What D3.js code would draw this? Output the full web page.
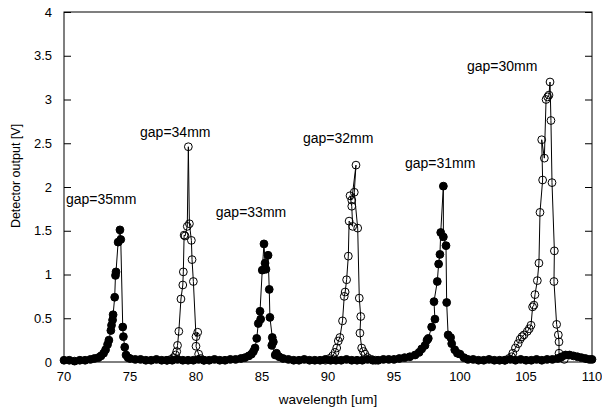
<!DOCTYPE html>
<html>
<head>
<meta charset="utf-8">
<script src="https://cdn.jsdelivr.net/npm/d3@7"></script>
<style>
  body { margin: 0; background: #fff; }
  text { font-family: Arial, "Liberation Sans", sans-serif; fill: #000; }
</style>
</head>
<body>
<div id="chart"></div>
<script>
// scans as [wavelength um, detector output V]
var scan35 = [[70.0,0.02],[70.4,0.02],[70.8,0.01],[71.2,0.02],[71.6,0.02],[72.0,0.03],[72.3,0.04],[72.6,0.05],[72.8,0.07],[73.0,0.10],[73.15,0.14],[73.3,0.20],[73.4,0.25],[73.55,0.36],[73.6,0.42],[73.68,0.48],[73.72,0.54],[73.84,0.74],[73.9,0.99],[73.94,1.03],[74.1,1.37],[74.24,1.51],[74.3,1.40],[74.45,0.40],[74.5,0.29],[74.6,0.17],[74.7,0.08],[74.85,0.05],[75.0,0.04],[75.4,0.03],[75.8,0.03],[76.2,0.02],[76.6,0.02],[77.0,0.03],[77.4,0.02],[77.8,0.02],[78.2,0.02],[78.6,0.03],[79.0,0.02],[79.4,0.02],[79.8,0.02],[80.2,0.03]];
var scan33 = [[80.6,0.02],[81.0,0.02],[81.4,0.03],[81.8,0.02],[82.2,0.02],[82.6,0.03],[83.0,0.03],[83.4,0.04],[83.7,0.05],[84.0,0.07],[84.2,0.09],[84.35,0.12],[84.47,0.16],[84.6,0.27],[84.72,0.44],[84.9,0.49],[84.85,0.58],[85.02,1.05],[85.15,1.35],[85.23,1.13],[85.3,1.06],[85.46,1.22],[85.55,0.83],[85.6,0.51],[85.78,0.28],[85.86,0.23],[85.74,0.19],[86.0,0.08]];
var scan31 = [[86.1,0.10],[86.3,0.06],[86.6,0.04],[87.0,0.03],[87.4,0.02],[87.8,0.02],[88.2,0.03],[88.6,0.02],[89.0,0.02],[89.4,0.02],[89.8,0.03],[90.2,0.02],[90.6,0.02],[91.0,0.02],[91.4,0.03],[91.8,0.02],[92.2,0.02],[92.6,0.02],[93.0,0.03],[93.4,0.02],[93.8,0.02],[94.2,0.03],[94.6,0.03],[95.0,0.03],[95.4,0.04],[95.8,0.05],[96.2,0.06],[96.6,0.08],[96.9,0.11],[97.1,0.15],[97.35,0.19],[97.5,0.25],[97.6,0.27],[97.85,0.40],[98.1,0.49],[98.03,0.69],[98.28,0.92],[98.38,1.12],[98.48,1.23],[98.54,1.48],[98.74,2.01],[98.74,1.43],[98.94,1.33],[98.99,0.68],[99.1,0.31],[99.29,0.28],[99.37,0.21],[99.6,0.14],[99.8,0.10],[100.0,0.09],[100.3,0.05],[100.6,0.03],[101.0,0.03],[101.4,0.02],[101.8,0.02],[102.2,0.03],[102.6,0.02],[103.0,0.02],[103.4,0.02],[103.8,0.03],[104.2,0.02],[104.6,0.03],[105.0,0.02],[105.4,0.02],[105.8,0.03],[106.2,0.02],[106.6,0.03],[107.0,0.03],[107.4,0.04],[107.7,0.06],[108.0,0.08],[108.3,0.08],[108.6,0.07],[108.9,0.06],[109.2,0.05],[109.5,0.04],[109.8,0.03],[110.0,0.03]];
var scan34 = [[77.8,0.02],[78.1,0.03],[78.3,0.05],[78.45,0.08],[78.54,0.12],[78.6,0.19],[78.7,0.35],[78.86,0.72],[79.0,0.88],[79.04,1.03],[79.1,1.45],[79.17,1.44],[79.34,1.55],[79.42,2.46],[79.5,1.58],[79.65,1.39],[79.7,1.17],[79.8,0.92],[80.0,0.29],[80.13,0.34],[80.0,0.18],[80.2,0.09],[80.35,0.04],[80.6,0.02]];
var scan32 = [[89.8,0.02],[90.1,0.04],[90.35,0.07],[90.53,0.11],[90.66,0.16],[90.78,0.24],[90.9,0.28],[91.1,0.47],[91.23,0.75],[91.3,0.80],[91.41,0.94],[91.54,1.21],[91.6,1.61],[91.87,1.55],[91.8,1.78],[91.67,1.90],[91.8,1.85],[92.12,2.25],[91.99,1.94],[92.25,1.53],[92.37,0.73],[92.48,0.52],[92.42,0.33],[92.55,0.16],[92.68,0.12],[92.8,0.09],[93.0,0.05],[93.3,0.03],[93.6,0.02]];
var scan30 = [[103.4,0.02],[103.7,0.04],[103.9,0.06],[104.0,0.10],[104.2,0.16],[104.4,0.21],[104.55,0.26],[104.7,0.29],[104.85,0.31],[105.1,0.35],[105.25,0.38],[105.38,0.42],[105.5,0.63],[105.6,0.65],[105.68,0.77],[105.86,0.93],[105.98,1.13],[106.06,1.71],[106.26,2.08],[106.19,2.54],[106.39,2.33],[106.52,3.00],[106.64,3.03],[106.74,3.05],[106.82,3.20],[106.89,2.76],[106.97,2.05],[107.15,1.27],[107.12,0.92],[107.32,0.43],[107.45,0.31],[107.5,0.23],[107.5,0.10],[107.6,0.05],[107.9,0.03]];

var gapLabels = ["gap=35mm","gap=34mm","gap=33mm","gap=32mm","gap=31mm","gap=30mm"];
var labelX = [70.15, 75.76, 81.5, 88.1, 95.83, 100.53];
var labelY = [1.81, 2.57, 1.66, 2.50, 2.22, 3.33];

var xTicks = [70,75,80,85,90,95,100,105,110];
var yTicks = [0,0.5,1,1.5,2,2.5,3,3.5,4];

var W = 602, H = 411;
var margin = {top:12, left:64, right:10, bottom:49};

var svg = d3.select("#chart").append("svg")
	.attr("width", W)
	.attr("height", H);

var x = d3.scaleLinear().domain([70,110]).range([margin.left, W - margin.right]);
var y = d3.scaleLinear().domain([0,4]).range([H - margin.bottom, margin.top]);

// frame
svg.append("rect")
	.attr("x", x(70)).attr("y", y(4))
	.attr("width", x(110) - x(70)).attr("height", y(0) - y(4))
	.attr("fill", "none").attr("stroke", "#000").attr("stroke-width", 1);

// y axis, ticks inward on both sides
var yAxisL = svg.append("g")
	.attr("transform", "translate(" + x(70) + ",0)")
	.call(d3.axisRight(y).tickValues(yTicks).tickSize(7).tickFormat(""));
var yAxisR = svg.append("g")
	.attr("transform", "translate(" + x(110) + ",0)")
	.call(d3.axisLeft(y).tickValues(yTicks).tickSize(7).tickFormat(""));
[yAxisL, yAxisR].forEach(function(g){
	g.select(".domain").remove();
	g.selectAll("line").attr("stroke", "#000");
});

svg.selectAll(".ytl").data(yTicks).enter().append("text")
	.attr("class","ytl")
	.attr("x", x(70) - 12)
	.attr("y", function(d){ return y(d) + 4.5; })
	.attr("text-anchor","end")
	.style("font-size","13px")
	.text(function(d){ return d; });

svg.selectAll(".xtl").data(xTicks).enter().append("text")
	.attr("class","xtl")
	.attr("x", function(d){ return x(d); })
	.attr("y", y(0) + 19)
	.attr("text-anchor","middle")
	.style("font-size","13px")
	.text(function(d){ return d; });

svg.append("text")
	.attr("x", (x(70) + x(110)) / 2)
	.attr("y", H - 7)
	.attr("text-anchor","middle")
	.style("font-size","13.5px")
	.text("wavelength [um]");

svg.append("text")
	.attr("transform","translate(20,176) rotate(-90)")
	.attr("text-anchor","middle")
	.style("font-size","12.5px")
	.text("Detector output [V]");

var line = d3.line()
	.x(function(d){ return x(d[0]); })
	.y(function(d){ return y(d[1]); });

function drawScan(data, filled) {
	var g = svg.append("g");
	g.append("path")
		.attr("d", line(data))
		.attr("fill","none")
		.attr("stroke","#000")
		.attr("stroke-width",1);
	g.selectAll("circle").data(data).enter().append("circle")
		.attr("cx", function(d){ return x(d[0]); })
		.attr("cy", function(d){ return y(d[1]); })
		.attr("r", 3.9)
		.attr("fill", filled ? "#000" : "none")
		.attr("stroke","#000")
		.attr("stroke-width",1);
}

// open scans first, filled scans over them
drawScan(scan34, false);
drawScan(scan32, false);
drawScan(scan30, false);
drawScan(scan35, true);
drawScan(scan33, true);
drawScan(scan31, true);

svg.selectAll(".gap").data(gapLabels).enter().append("text")
	.attr("class","gap")
	.attr("x", function(d,i){ return x(labelX[i]); })
	.attr("y", function(d,i){ return y(labelY[i]); })
	.style("font-size","14px")
	.text(function(d){ return d; });
</script>
</body>
</html>
